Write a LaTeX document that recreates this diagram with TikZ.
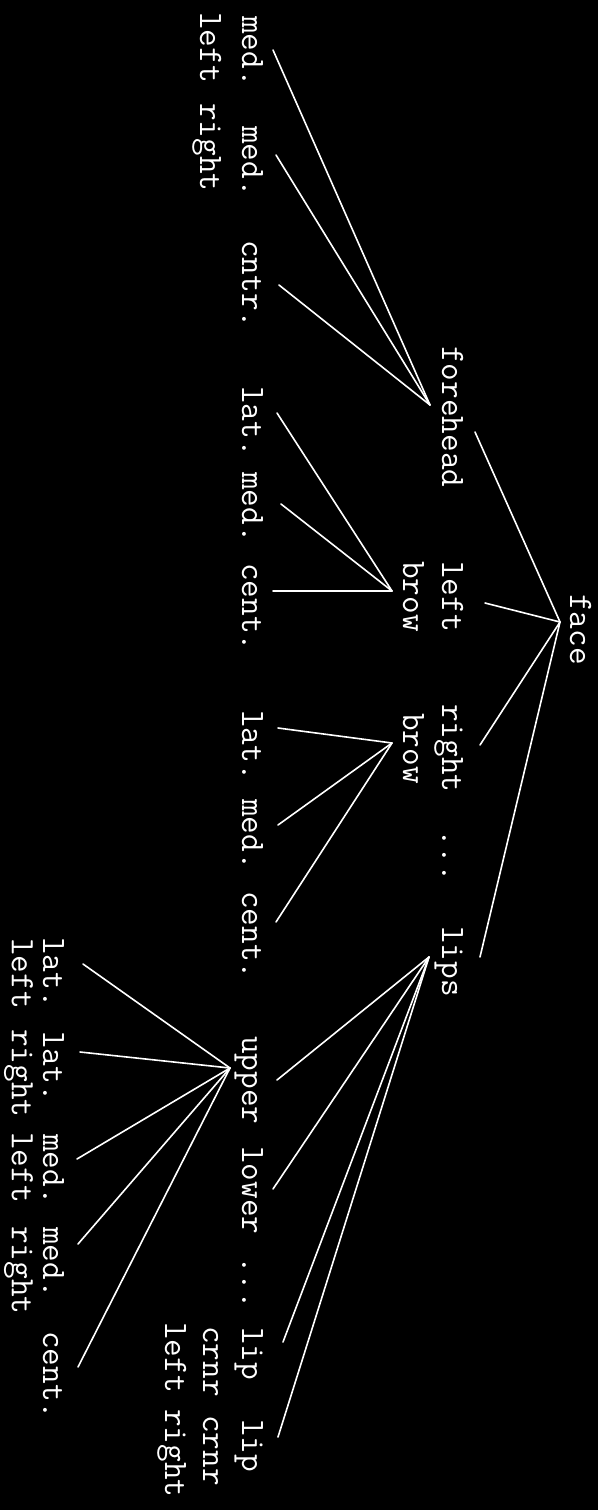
\documentclass[tikz,border=0pt]{standalone}
\usepackage{fontspec}
\begin{document}
\begin{tikzpicture}[x=1pt,y=-1pt,
  lbl/.style={rotate=-90, anchor=base west, inner sep=0pt, text=white,
    font=\fontsize{34.3}{41}\selectfont\ttfamily\addfontfeatures{FakeBold=3}},
  conn/.style={draw=white, line width=1.6pt, line cap=round}]
\fill[black] (0,0) rectangle (598,1510);
\useasboundingbox (0,0) rectangle (598,1510);
% level 0
\node[lbl] (face) at (570,594) {face};
% level 1
\node[lbl] (forehead) at (442,346) {forehead};
\node[lbl] (lbrow) at (442,561) {left};
\node[lbl] (lbrow2) at (403,561) {brow};
\node[lbl] (rbrow) at (442,704) {right};
\node[lbl] (rbrow2) at (403,713) {brow};
\node[lbl] (dotsa) at (442,829) {...};
\node[lbl] (lips) at (442,926) {lips};
% level 2
\node[lbl] (fmedl) at (242,16) {med.};
\node[lbl] (fmedl2) at (200,12) {left};
\node[lbl] (fmedr) at (242,126) {med.};
\node[lbl] (fmedr2) at (200,103) {right};
\node[lbl] (fcntr) at (242,240) {cntr.};
\node[lbl] (lblat) at (242,386) {lat.};
\node[lbl] (lbmed) at (242,472) {med.};
\node[lbl] (lbcent) at (242,563) {cent.};
\node[lbl] (rblat) at (242,710) {lat.};
\node[lbl] (rbmed) at (242,799) {med.};
\node[lbl] (rbcent) at (242,891) {cent.};
\node[lbl] (upper) at (242,1036) {upper};
\node[lbl] (lower) at (242,1146) {lower};
\node[lbl] (dotsb) at (242,1256) {...};
\node[lbl] (lcl) at (242,1327) {lip};
\node[lbl] (lcl2) at (203,1326) {crnr};
\node[lbl] (lcl3) at (165,1322) {left};
\node[lbl] (lcr) at (242,1419) {lip};
\node[lbl] (lcr2) at (203,1415) {crnr};
\node[lbl] (lcr3) at (165,1409) {right};
% level 3
\node[lbl] (ulatl) at (43,937) {lat.};
\node[lbl] (ulatl2) at (12,938) {left};
\node[lbl] (ulatr) at (43,1031) {lat.};
\node[lbl] (ulatr2) at (12,1029) {right};
\node[lbl] (umedl) at (43,1134) {med.};
\node[lbl] (umedl2) at (12,1132) {left};
\node[lbl] (umedr) at (43,1227) {med.};
\node[lbl] (umedr2) at (12,1226) {right};
\node[lbl] (ucent) at (43,1331) {cent.};
% connector ends
\coordinate (face-b) at (560,622);
\coordinate (forehead-t) at (475,432);
\coordinate (lbrow-t) at (485,603);
\coordinate (rbrow-t) at (480,745);
\coordinate (lips-t) at (480,957);
\coordinate (forehead-b) at (430,405);
\coordinate (fmedl-t) at (273,50);
\coordinate (fmedr-t) at (276,155);
\coordinate (fcntr-t) at (279,285);
\coordinate (lbrow-b) at (392,591);
\coordinate (lblat-t) at (277,413);
\coordinate (lbmed-t) at (281,504);
\coordinate (lbcent-t) at (273,591);
\coordinate (rbrow-b) at (392,743);
\coordinate (rblat-t) at (278,728);
\coordinate (rbmed-t) at (278,825);
\coordinate (rbcent-t) at (276,922);
\coordinate (lips-b) at (429,957);
\coordinate (upper-t) at (277,1080);
\coordinate (lower-t) at (273,1189);
\coordinate (lcl-t) at (283,1342);
\coordinate (lcr-t) at (278,1437);
\coordinate (upper-b) at (230,1068);
\coordinate (ulatl-t) at (83,964);
\coordinate (ulatr-t) at (80,1052);
\coordinate (umedl-t) at (77,1159);
\coordinate (umedr-t) at (78,1244);
\coordinate (ucent-t) at (78,1367);
% connectors
\draw[conn] (face-b) -- (forehead-t);
\draw[conn] (face-b) -- (lbrow-t);
\draw[conn] (face-b) -- (rbrow-t);
\draw[conn] (face-b) -- (lips-t);
\draw[conn] (forehead-b) -- (fmedl-t);
\draw[conn] (forehead-b) -- (fmedr-t);
\draw[conn] (forehead-b) -- (fcntr-t);
\draw[conn] (lbrow-b) -- (lblat-t);
\draw[conn] (lbrow-b) -- (lbmed-t);
\draw[conn] (lbrow-b) -- (lbcent-t);
\draw[conn] (rbrow-b) -- (rblat-t);
\draw[conn] (rbrow-b) -- (rbmed-t);
\draw[conn] (rbrow-b) -- (rbcent-t);
\draw[conn] (lips-b) -- (upper-t);
\draw[conn] (lips-b) -- (lower-t);
\draw[conn] (lips-b) -- (lcl-t);
\draw[conn] (lips-b) -- (lcr-t);
\draw[conn] (upper-b) -- (ulatl-t);
\draw[conn] (upper-b) -- (ulatr-t);
\draw[conn] (upper-b) -- (umedl-t);
\draw[conn] (upper-b) -- (umedr-t);
\draw[conn] (upper-b) -- (ucent-t);
\end{tikzpicture}
\end{document}
